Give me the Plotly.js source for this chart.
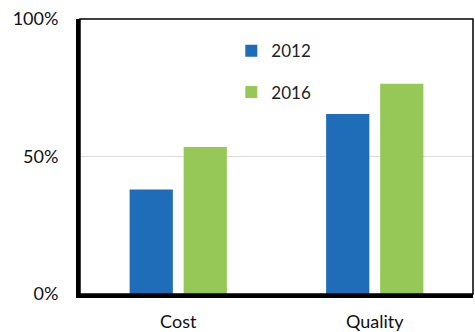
<!DOCTYPE html>
<html><head><meta charset="utf-8">
<script src="https://cdn.plot.ly/plotly-3.0.1.min.js"></script>
<style>body{margin:0;padding:0;background:#fff}#c{width:475px;height:332px}</style>
</head><body><div id="c"></div>
<script>
const categories = ["Cost", "Quality"];
const series2012 = [0.38, 0.655];
const series2016 = [0.535, 0.765];
const seriesNames = ["2012", "2016"];
const yTickVals = [0, 0.5, 1];
const yTickText = ["0%", "50%", "100%"];

const data = [
  {type: "bar", x: categories, y: series2012, name: seriesNames[0], legendgroup: "a", marker: {color: "#1f6db8"}},
  {type: "bar", x: categories, y: series2016, name: seriesNames[1], legendgroup: "b", marker: {color: "#96c857"}}
];
const layout = {
  width: 475, height: 332,
  margin: {l: 80, r: 2, t: 19, b: 38},
  paper_bgcolor: "#fff", plot_bgcolor: "#fff",
  font: {family: "Lato, 'Open Sans', sans-serif", size: 18, color: "#111"},
  barmode: "group", bargap: 0.45, bargroupgap: 0.2,
  showlegend: true,
  legend: {x: 0.385, y: 0.948, xanchor: "left", yanchor: "top", font: {size: 17, color: "#222"}, tracegroupgap: 16, itemwidth: 30, bgcolor: "rgba(0,0,0,0)"},
  xaxis: {showline: true, linecolor: "#000", linewidth: 4, ticks: "outside", ticklen: 8, tickcolor: "rgba(0,0,0,0)", showgrid: false, tickfont: {size: 18}},
  yaxis: {range: [0, 1], tickvals: yTickVals, ticktext: yTickText, showline: true, linecolor: "#000", linewidth: 4, showgrid: true, gridcolor: "#d9d9d9", gridwidth: 1.5, ticks: "outside", ticklen: 14, tickcolor: "rgba(0,0,0,0)", zeroline: false, tickfont: {size: 18}},
  shapes: [{type: "rect", xref: "paper", yref: "paper", x0: 0, x1: 1, y0: 0, y1: 1, line: {color: "#000", width: 1.5}}]
};
Plotly.newPlot("c", data, layout, {displayModeBar: false, staticPlot: true});
</script></body></html>
